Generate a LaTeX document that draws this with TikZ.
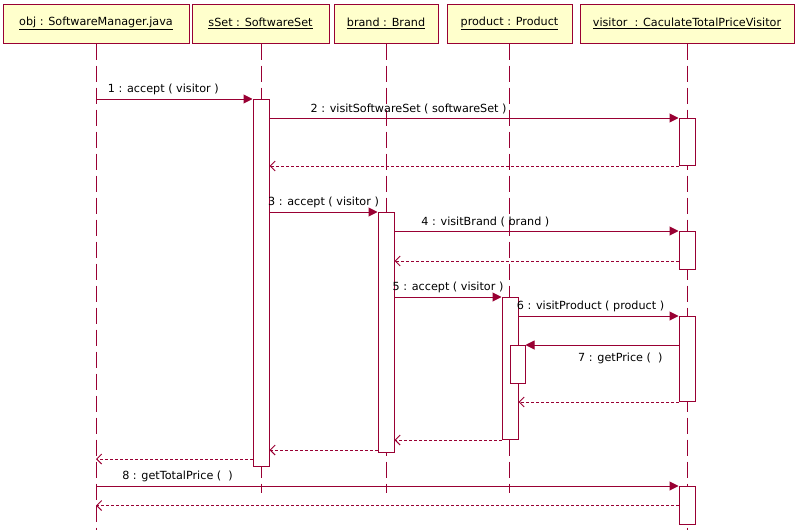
\documentclass[tikz,border=0pt]{standalone}
\usepackage{fontspec}
\setmainfont{DejaVu Sans}
\usepackage{tikz}
\usetikzlibrary{arrows.meta,positioning}
\definecolor{umlred}{rgb}{0.60,0.00,0.20}
\definecolor{umlyellow}{rgb}{1.00,1.00,0.80}
\tikzset{
  head/.style={draw=umlred,fill=umlyellow,line width=1pt,minimum height=39pt,
               inner sep=0pt,font=\umlfont},
  lifeline/.style={draw=umlred,line width=1pt,dash pattern=on 16pt off 6pt},
  act/.style={draw=umlred,fill=white,line width=1pt,minimum width=16pt,
              inner sep=0pt,anchor=north},
  call/.style={draw=umlred,line width=1pt,-{Triangle[length=9pt,width=9pt]}},
  reply/.style={draw=umlred,line width=1pt,dash pattern=on 3pt off 2pt,
                -{Straight Barb[length=5pt,width=10pt]}},
  msg/.style={font=\umlfont,text=black,inner sep=1pt},
}
\newcommand{\umlfont}{\fontsize{11.2}{13}\selectfont}

\begin{document}
\begin{tikzpicture}[x=1pt,y=-1pt]
  \useasboundingbox (0,0) rectangle (801,530);
  % objects
  \node[head,minimum width=186pt] (obj)   at (96,23.5)    {\underline{obj : SoftwareManager.java}};
  \node[head,minimum width=137pt] (sSet)  at (260.5,23.5) {\underline{sSet : SoftwareSet}};
  \node[head,minimum width=104pt] (brand) at (386,23.5)   {\underline{brand : Brand}};
  \node[head,minimum width=125pt] (prod)  at (509.5,23.5) {\underline{product : Product}};
  \node[head,minimum width=214pt] (vis)   at (687,23.5)   {\underline{visitor\ \ : CaculateTotalPriceVisitor}};
  % lifelines
  \coordinate (objEnd)   at (96,530);
  \coordinate (sSetEnd)  at (261,493);
  \coordinate (brandEnd) at (386,493);
  \coordinate (prodEnd)  at (509,493);
  \coordinate (visEnd)   at (687,530);
  \draw[lifeline] (obj.south) -- (objEnd);
  \draw[lifeline] (sSet.south -| sSetEnd) -- (sSetEnd);
  \draw[lifeline] (brand.south) -- (brandEnd);
  \draw[lifeline] (prod.south -| prodEnd) -- (prodEnd);
  \draw[lifeline] (vis.south) -- (visEnd);
  % activations
  \node[act,minimum height=367pt] (aSet)   at (261,99)    {};
  \node[act,minimum height=47pt]  (aV1)    at (687,118)   {};
  \node[act,minimum height=240pt] (aBrand) at (386,212)   {};
  \node[act,minimum height=38pt]  (aV2)    at (687,231)   {};
  \node[act,minimum height=142pt] (aProd)  at (510,297)   {};
  \node[act,minimum height=85pt]  (aV3)    at (687,316)   {};
  \node[act,minimum height=38pt,minimum width=15pt] (aProd2) at (517.5,345) {};
  \node[act,minimum height=38pt]  (aV4)    at (687,486)   {};
  % return points
  \coordinate (r4)  at ([yshift=9pt]aV2.south west);
  \coordinate (r3)  at ([yshift=3pt]aBrand.south west);
  \coordinate (r1)  at ([yshift=8pt]aSet.south west);
  % messages
  \draw[call] (obj |- aSet.north) -- (aSet.north west)
    node[msg,pos=0.43,above=3pt]{1 : accept ( visitor )};
  \draw[call] (aSet.east |- aV1.north) -- (aV1.north west)
    node[msg,pos=0.34,above=3pt]{2 : visitSoftwareSet ( softwareSet )};
  \draw[reply] (aV1.south west) -- (aSet.east |- aV1.south);
  \draw[call] (aSet.east |- aBrand.north) -- (aBrand.north west)
    node[msg,pos=0.5,above=3pt]{3 : accept ( visitor )};
  \draw[call] (aBrand.east |- aV2.north) -- (aV2.north west)
    node[msg,pos=0.32,above=3pt]{4 : visitBrand ( brand )};
  \draw[reply] (r4) -- (aBrand.east |- r4);
  \draw[call] (aBrand.east |- aProd.north) -- (aProd.north west)
    node[msg,pos=0.5,above=3pt]{5 : accept ( visitor )};
  \draw[call] (aProd.east |- aV3.north) -- (aV3.north west)
    node[msg,pos=0.45,above=3pt]{6 : visitProduct ( product )};
  \draw[call] (aV3.west |- aProd2.north) -- (aProd2.north east)
    node[msg,pos=0.38,below=6pt]{7 : getPrice (\ \ )};
  \draw[reply] (aV3.south west) -- (aProd.east |- aV3.south);
  \draw[reply] (aProd.south west) -- (aBrand.east |- aProd.south);
  \draw[reply] (r3) -- (aSet.east |- r3);
  \draw[reply] (r1) -- (obj |- r1);
  \draw[call] (obj |- aV4.north) -- (aV4.north west)
    node[msg,pos=0.14,above=3pt]{8 : getTotalPrice (\ \ )};
  \draw[reply] (aV4.west) -- (obj |- aV4.west);
\end{tikzpicture}
\end{document}
